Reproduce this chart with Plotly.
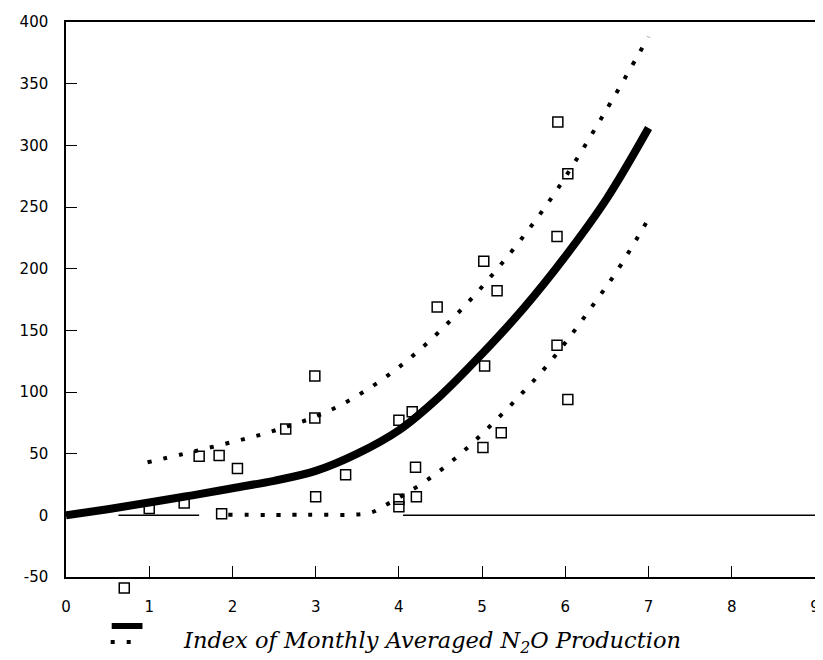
import plotly.graph_objects as go

# ---- data ----
square_x = [0.70, 1.00, 1.42, 1.60, 1.84, 2.06, 1.87, 2.64, 2.99, 2.99, 3.00, 3.36,
            4.00, 4.16, 4.00, 4.00, 4.21, 4.20, 4.46, 5.01, 5.03, 5.02, 5.18, 5.23,
            5.91, 6.03, 5.90, 5.90, 6.03]
square_y = [-59, 5.6, 10, 48, 48.5, 38, 1.3, 70, 79, 113, 15, 33,
            77, 84, 13, 7, 15, 39, 169, 55, 121, 206, 182, 67,
            319, 277, 226, 138, 94]

fit_x = [0, 0.5, 1.0, 1.5, 2.0, 2.5, 3.0, 3.5, 4.0, 4.5, 5.0, 5.5, 6.0, 6.5, 7.0]
fit_y = [0, 5, 10.4, 16, 22, 28, 36, 50, 69, 97, 131, 168, 210, 257, 314]

upper_x = [0.98, 1.73, 2.47, 3.2, 3.94, 4.68, 5.33, 5.88, 6.46, 7.0]
upper_y = [43, 55, 68, 86, 117, 162, 212, 262, 325, 388]

lower_x = [1.95, 2.9, 3.65, 3.83, 4.02, 4.39, 4.76, 5.12, 5.48, 5.8, 6.09, 6.36, 6.62, 6.97]
lower_y = [0.5, 0.5, 2, 8, 15, 31, 51, 74, 99, 123, 148, 173, 198, 237]

zero_x = [0.63, 1.6, None, 4.05, 9.0]
zero_y = [0, 0, None, 0, 0]

x_ticks = [0, 1, 2, 3, 4, 5, 6, 7, 8, 9]
y_ticks = [-50, 0, 50, 100, 150, 200, 250, 300, 350, 400]
title_text = "<i>Index of Monthly Averaged N<sub>2</sub>O Production</i>"

X_RANGE = [0, 9]
Y_RANGE = [-50, 400]

# ---- layout geometry (figure pixels; page adds an 8px body margin) ----
FW, FH = 815, 652
ML, MR, MT, MB = 58, 3, 14, 52
PW = FW - ML - MR
PH = FH - MT - MB
MAIN_BOTTOM = 569                     # figure y of the x axis line
PLOT_BOTTOM = FH - MB
dom0 = (PLOT_BOTTOM - MAIN_BOTTOM) / PH
units_per_px = (Y_RANGE[1] - Y_RANGE[0]) / (MAIN_BOTTOM - MT)
y2_low = Y_RANGE[0] - (PLOT_BOTTOM - MAIN_BOTTOM) * units_per_px

def px(fx):
    return (fx - ML) / PW

def py(fy):
    return (PLOT_BOTTOM - fy) / PH

fig = go.Figure()

fig.add_trace(go.Scatter(x=zero_x, y=zero_y, mode="lines",
                         line=dict(color="black", width=1.5), hoverinfo="skip"))
fig.add_trace(go.Scatter(x=square_x, y=square_y, mode="markers", xaxis="x2", yaxis="y2",
                         marker=dict(symbol="square-open", size=10, color="black",
                                     line=dict(width=1.5, color="black")),
                         cliponaxis=False))
fig.add_trace(go.Scatter(x=upper_x, y=upper_y, mode="lines",
                         line=dict(color="black", width=4, dash="4px,12px", shape="spline")))
fig.add_trace(go.Scatter(x=lower_x, y=lower_y, mode="lines",
                         line=dict(color="black", width=4, dash="4px,12px", shape="spline")))
fig.add_trace(go.Scatter(x=fit_x, y=fit_y, mode="lines",
                         line=dict(color="black", width=8, shape="spline")))

axis_common = dict(showgrid=False, zeroline=False, showline=True, linecolor="black",
                   linewidth=1.5, mirror=True, ticks="inside", ticklen=11,
                   tickcolor="black", tickwidth=1.2,
                   tickfont=dict(family="DejaVu Sans", size=15, color="black"))

fig.update_layout(
    xaxis=dict(range=X_RANGE, domain=[0, 1], anchor="y", tickvals=x_ticks,
               ticktext=[str(v) for v in x_ticks], ticklabelstandoff=15, **axis_common),
    yaxis=dict(range=Y_RANGE, domain=[dom0, 1], anchor="x", tickvals=y_ticks,
               ticktext=[str(v) for v in y_ticks], ticklabelstandoff=13, **axis_common),
    xaxis2=dict(range=X_RANGE, domain=[0, 1], anchor="y2", visible=False),
    yaxis2=dict(range=[y2_low, Y_RANGE[1]], domain=[0, 1], anchor="x2", visible=False),
)

# legend key drawn below the axes
fig.add_shape(type="line", xref="paper", yref="paper",
              x0=px(104), x1=px(135), y0=py(618), y1=py(618),
              line=dict(color="black", width=6))
fig.add_shape(type="line", xref="paper", yref="paper",
              x0=px(103), x1=px(125), y0=py(634), y1=py(634),
              line=dict(color="black", width=4, dash="4px,12px"))
fig.add_annotation(text=title_text, xref="paper", yref="paper",
                   x=px(174), y=py(634), xanchor="left", yanchor="middle",
                   showarrow=False,
                   font=dict(family="DejaVu Serif", size=22.5, color="black"))

fig.update_layout(width=FW, height=FH, margin=dict(l=ML, r=MR, t=MT, b=MB),
                  paper_bgcolor="white", plot_bgcolor="rgba(0,0,0,0)", showlegend=False)

fig.write_html("out.html")
